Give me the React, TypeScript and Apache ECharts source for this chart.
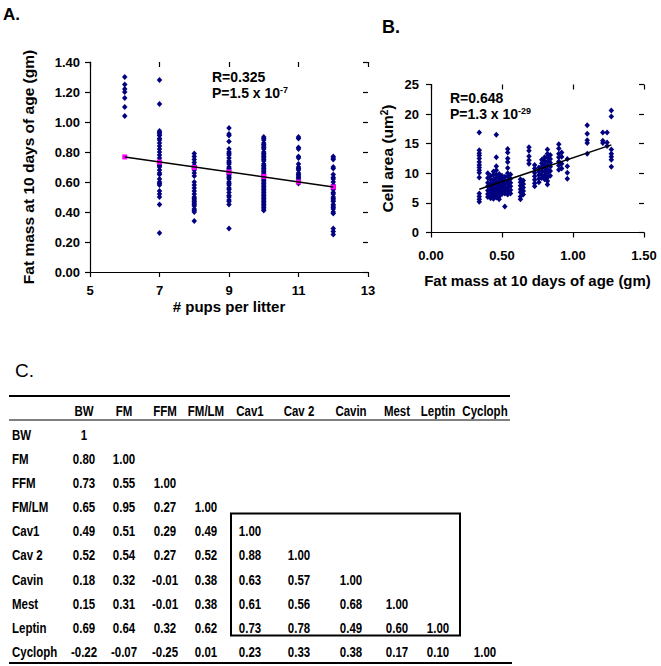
import React, { useEffect, useRef } from "react";
import * as echarts from "echarts";

const FONT = "'Liberation Sans', Arial, Helvetica, sans-serif";

// ---------- Panel A: fat mass vs pups per litter ----------
const litterSizes = [6, 7, 8, 9, 10, 11, 12];
const fatLitter6 = [1.30, 1.25, 1.22, 1.20, 1.16, 1.10, 1.04];
const fatLitter7 = [1.28, 1.12, 0.94, 0.93, 0.92, 0.91, 0.89, 0.88, 0.86, 0.84, 0.82, 0.80, 0.78, 0.76, 0.74, 0.73, 0.72, 0.71, 0.70, 0.68, 0.66, 0.65, 0.62, 0.60, 0.59, 0.58, 0.54, 0.52, 0.50, 0.45, 0.26];
const fatLitter8 = [0.79, 0.77, 0.75, 0.73, 0.71, 0.70, 0.69, 0.68, 0.66, 0.64, 0.60, 0.58, 0.56, 0.54, 0.52, 0.50, 0.49, 0.48, 0.47, 0.46, 0.45, 0.44, 0.42, 0.41, 0.40, 0.34];
const fatLitter9 = [0.96, 0.92, 0.91, 0.87, 0.82, 0.80, 0.79, 0.78, 0.76, 0.74, 0.73, 0.72, 0.70, 0.69, 0.68, 0.66, 0.65, 0.64, 0.63, 0.62, 0.60, 0.59, 0.58, 0.56, 0.55, 0.53, 0.51, 0.50, 0.48, 0.47, 0.45, 0.29];
const fatLitter10 = [0.90, 0.89, 0.88, 0.86, 0.85, 0.84, 0.83, 0.82, 0.80, 0.79, 0.78, 0.77, 0.76, 0.75, 0.74, 0.72, 0.71, 0.70, 0.69, 0.68, 0.67, 0.66, 0.65, 0.64, 0.62, 0.61, 0.60, 0.59, 0.58, 0.57, 0.56, 0.55, 0.54, 0.53, 0.52, 0.51, 0.50, 0.49, 0.48, 0.47, 0.46, 0.45, 0.44, 0.43, 0.42, 0.41];
const fatLitter11 = [0.90, 0.89, 0.83, 0.82, 0.77, 0.76, 0.72, 0.70, 0.69, 0.68, 0.66, 0.65, 0.64, 0.63, 0.62, 0.61, 0.60, 0.59];
const fatLitter12 = [0.77, 0.76, 0.75, 0.70, 0.69, 0.65, 0.63, 0.62, 0.60, 0.58, 0.57, 0.56, 0.55, 0.53, 0.52, 0.50, 0.49, 0.48, 0.47, 0.45, 0.44, 0.43, 0.42, 0.40, 0.39, 0.29, 0.27, 0.25];
const fatByLitter = [fatLitter6, fatLitter7, fatLitter8, fatLitter9, fatLitter10, fatLitter11, fatLitter12];
const fittedFat = [0.767, 0.733, 0.697, 0.667, 0.637, 0.600, 0.567];
const fitLineA = [[6, 0.767], [12, 0.567]];
const yTicksA = { min: 0, max: 1.4, interval: 0.2 };
const xTicksA = { min: 5, max: 13, interval: 2 };

// ---------- Panel B: cell area vs fat mass ----------
const cellFatMass = [0.34, 0.40, 0.42, 0.44, 0.46, 0.48, 0.50, 0.52, 0.54, 0.56, 0.63, 0.65, 0.69, 0.73, 0.76, 0.78, 0.80, 0.82, 0.84, 0.90, 0.92, 0.96, 1.10, 1.21, 1.24, 1.27];
const cellAreaColumns = [
  [16.9, 13.9, 13.4, 13.0, 12.5, 11.9, 11.4, 11.0, 10.5, 10.1, 9.3, 6.6, 6.1, 5.6, 5.2],
  [10.0, 9.2, 8.4, 7.8, 7.1, 6.5, 6.0],
  [9.6, 8.9, 8.2, 7.6, 7.2, 6.8, 6.3, 5.8],
  [10.3, 9.7, 9.0, 8.5, 8.0, 7.5, 7.0, 6.6, 6.1, 5.7],
  [16.5, 12.7, 11.2, 10.5, 9.8, 9.2, 8.6, 8.0, 7.4, 6.9, 6.4, 5.9],
  [9.9, 9.3, 8.7, 8.1, 7.6, 7.1, 6.6, 6.1, 5.6],
  [9.6, 9.0, 8.5, 8.0, 7.5, 7.0, 6.5],
  [9.4, 8.8, 8.3, 7.7, 7.2, 6.6, 4.4],
  [14.1, 13.5, 12.5, 11.9, 10.9, 10.0, 9.4, 8.8, 8.2, 7.6, 7.0, 6.4],
  [9.8, 9.1, 8.4, 7.8, 7.2, 6.6],
  [9.0, 8.5, 7.9, 7.3, 6.8, 6.1, 5.6],
  [8.8, 8.2, 7.6, 7.0, 6.4],
  [14.4, 13.8, 12.9, 12.2, 11.6],
  [11.4, 10.8, 10.1, 9.5, 8.9, 8.3, 7.8],
  [11.0, 10.3, 9.7, 9.1, 8.5],
  [12.3, 11.7, 11.1, 10.4, 9.8, 9.2],
  [12.7, 12.1, 11.5, 10.9, 10.3, 9.6, 9.0],
  [14.0, 13.3, 12.7, 12.0, 11.3, 10.6, 10.0, 9.3, 8.7, 8.1],
  [13.1, 12.4, 11.8, 11.1, 10.4, 9.6],
  [14.9, 14.2, 13.3, 12.7, 12.0, 11.3, 10.6],
  [13.5, 12.8, 11.6, 10.8],
  [12.4, 11.2, 10.1, 9.1],
  [18.1, 16.7, 15.6, 15.1, 13.3],
  [16.9, 15.5, 15.1],
  [16.9, 15.2, 14.6],
  [20.6, 19.6, 14.0, 13.3, 12.8, 12.3, 11.1],
];
const fitLineB = [[0.34, 7.3], [1.27, 14.8]];
const yTicksB = { min: 0, max: 25, interval: 5 };
const xTicksB = { min: 0, max: 1.5, interval: 0.5 };

// ---------- Panel C: correlation table ----------
const tableColumns = ["BW", "FM", "FFM", "FM/LM", "Cav1", "Cav 2", "Cavin", "Mest", "Leptin", "Cycloph"];
const tableRowNames = ["BW", "FM", "FFM", "FM/LM", "Cav1", "Cav 2", "Cavin", "Mest", "Leptin", "Cycloph"];
const corrBW = ["1"];
const corrFM = ["0.80", "1.00"];
const corrFFM = ["0.73", "0.55", "1.00"];
const corrFMLM = ["0.65", "0.95", "0.27", "1.00"];
const corrCav1 = ["0.49", "0.51", "0.29", "0.49", "1.00"];
const corrCav2 = ["0.52", "0.54", "0.27", "0.52", "0.88", "1.00"];
const corrCavin = ["0.18", "0.32", "-0.01", "0.38", "0.63", "0.57", "1.00"];
const corrMest = ["0.15", "0.31", "-0.01", "0.38", "0.61", "0.56", "0.68", "1.00"];
const corrLeptin = ["0.69", "0.64", "0.32", "0.62", "0.73", "0.78", "0.49", "0.60", "1.00"];
const corrCycloph = ["-0.22", "-0.07", "-0.25", "0.01", "0.23", "0.33", "0.38", "0.17", "0.10", "1.00"];
const corrRows = [corrBW, corrFM, corrFFM, corrFMLM, corrCav1, corrCav2, corrCavin, corrMest, corrLeptin, corrCycloph];

// layout of the table (pixels)
const colCenters = [84, 124, 165, 206, 250, 299, 351, 397, 438, 485];
const rowLabelX = 12;
const headerY = 411;
const firstRowY = 435;
const rowStep = 24.1;

const labelStyle = { color: "#000", fontWeight: "bold" as const, fontSize: 13, fontFamily: FONT };
const nameStyle = { color: "#000", fontWeight: "bold" as const, fontFamily: FONT };

function axisPair(gridIndex: number, ticks: any, main: any) {
  const common = {
    type: "value",
    gridIndex,
    min: ticks.min,
    max: ticks.max,
    interval: ticks.interval,
    splitLine: { show: false },
  };
  return [
    {
      ...common,
      axisLine: { show: true, onZero: false, lineStyle: { color: "#000", width: 1.2 } },
      axisTick: { show: true, inside: false, length: 5, lineStyle: { color: "#000", width: 1.2 } },
      ...main,
    },
    {
      ...common,
      axisLine: { show: false, onZero: false },
      axisTick: { show: true, inside: true, length: 5, lineStyle: { color: "#000", width: 1.2 } },
      axisLabel: { show: false },
    },
  ];
}

export default function App() {
  const ref = useRef<HTMLDivElement>(null);
  useEffect(() => {
    document.body.style.margin = "0";
    if (!ref.current) return;
    const chart = echarts.init(ref.current, null, { renderer: "svg" });

    const scatterA: number[][] = [];
    litterSizes.forEach((n, i) => fatByLitter[i].forEach((v) => scatterA.push([n, v])));
    const fittedA = litterSizes.map((n, i) => [n, fittedFat[i]]);
    const scatterB: number[][] = [];
    cellFatMass.forEach((x, i) => cellAreaColumns[i].forEach((v) => scatterB.push([x, v])));

    const graphics: any[] = [];
    const txt = (text: string, x: number, y: number, opts: any = {}, el: any = {}) =>
      graphics.push({
        type: "text",
        x,
        y,
        ...el,
        style: {
          text,
          fill: "#000",
          fontFamily: FONT,
          fontWeight: "bold",
          fontSize: 12,
          align: "center",
          verticalAlign: "middle",
          ...opts,
        },
      });

    // panel letters
    txt("A.", 3, 14, { fontSize: 17, align: "left" });
    txt("B.", 382, 27, { fontSize: 18, align: "left" });
    txt("C.", 15, 370, { fontSize: 19, align: "left", fontWeight: "normal" });

    // annotations (two lines each)
    const annRich = (lh: number) => ({
      a: { fontSize: 14, fontWeight: "bold", fontFamily: FONT, fill: "#000", lineHeight: lh },
      s: { fontSize: 9, fontWeight: "bold", fontFamily: FONT, fill: "#000", verticalAlign: "top", lineHeight: lh, padding: [0, 0, 5, 0] },
    });
    txt("{a|R=0.325}\n{a|P=1.5 x 10}{s|-7}", 212, 69, { align: "left", verticalAlign: "top", rich: annRich(16) });
    txt("{a|R=0.648}\n{a|P=1.3 x 10}{s|-29}", 450, 90, { align: "left", verticalAlign: "top", rich: annRich(16) });

    // table rules
    const rule = (x1: number, y: number, x2: number, w: number) =>
      graphics.push({ type: "line", shape: { x1, y1: y, x2, y2: y }, style: { stroke: "#000", lineWidth: w } });
    rule(9, 396, 510, 2);
    rule(9, 420, 510, 1);
    rule(9, 663, 512, 2);
    graphics.push({
      type: "rect",
      shape: { x: 231, y: 513.5, width: 229, height: 122 },
      style: { fill: "none", stroke: "#000", lineWidth: 2 },
    });

    // table header & cells (narrow bold face emulated by horizontal scaling)
    const cellFont = { fontSize: 14 };
    const narrow = { scaleX: 0.82 };
    tableColumns.forEach((c, j) => txt(c, colCenters[j], headerY, cellFont, narrow));
    tableRowNames.forEach((r, i) => {
      const y = firstRowY + i * rowStep;
      txt(r, rowLabelX, y, { ...cellFont, align: "left" }, narrow);
      corrRows[i].forEach((v, j) => txt(v, colCenters[j], y, cellFont, narrow));
    });

    const option: any = {
      animation: false,
      backgroundColor: "#fff",
      grid: [
        { left: 90, top: 62, width: 278, height: 210 },
        { left: 431, top: 84.5, width: 213, height: 148 },
      ],
      xAxis: [
        ...axisPair(0, xTicksA, {
          axisLabel: { ...labelStyle, margin: 12 },
          name: "# pups per litter",
          nameLocation: "middle",
          nameGap: 27,
          nameTextStyle: { ...nameStyle, fontSize: 15 },
        }),
        ...axisPair(1, xTicksB, {
          axisLabel: { ...labelStyle, margin: 16, formatter: (v: number) => v.toFixed(2) },
          name: "Fat mass at 10 days of age (gm)",
          nameLocation: "middle",
          nameGap: 40,
          nameTextStyle: { ...nameStyle, fontSize: 15 },
        }),
      ],
      yAxis: [
        ...axisPair(0, yTicksA, {
          axisLabel: { ...labelStyle, margin: 10, formatter: (v: number) => v.toFixed(2) },
          name: "Fat mass at 10 days of age (gm)",
          nameLocation: "middle",
          nameGap: 54,
          nameTextStyle: { ...nameStyle, fontSize: 15.5 },
        }),
        ...axisPair(1, yTicksB, {
          axisLabel: { ...labelStyle, margin: 12 },
          name: "Cell area (um{s|2})",
          nameLocation: "middle",
          nameGap: 36,
          nameTextStyle: {
            ...nameStyle,
            fontSize: 15.5,
            rich: { s: { ...nameStyle, fontSize: 10, verticalAlign: "top", padding: [0, 0, 6, 0] } },
          },
        }),
      ],
      series: [
        {
          type: "scatter",
          xAxisIndex: 0,
          yAxisIndex: 0,
          data: scatterA,
          symbol: "diamond",
          symbolSize: [5.5, 6],
          itemStyle: { color: "#000080", opacity: 1 },
          z: 2,
        },
        {
          type: "scatter",
          xAxisIndex: 0,
          yAxisIndex: 0,
          data: fittedA,
          symbol: "rect",
          symbolSize: 5,
          itemStyle: { color: "#ff00ff", opacity: 1 },
          z: 3,
        },
        {
          type: "line",
          xAxisIndex: 0,
          yAxisIndex: 0,
          data: fitLineA,
          symbol: "none",
          lineStyle: { color: "#000", width: 1.5 },
          z: 4,
        },
        {
          type: "scatter",
          xAxisIndex: 2,
          yAxisIndex: 2,
          data: scatterB,
          symbol: "diamond",
          symbolSize: [5.5, 6],
          itemStyle: { color: "#000080", opacity: 1 },
          z: 2,
        },
        {
          type: "line",
          xAxisIndex: 2,
          yAxisIndex: 2,
          data: fitLineB,
          symbol: "none",
          lineStyle: { color: "#000", width: 1.5 },
          z: 4,
        },
      ],
      graphic: graphics,
    };
    chart.setOption(option);
    return () => chart.dispose();
  }, []);
  return <div ref={ref} style={{ width: 661, height: 666 }} />;
}
